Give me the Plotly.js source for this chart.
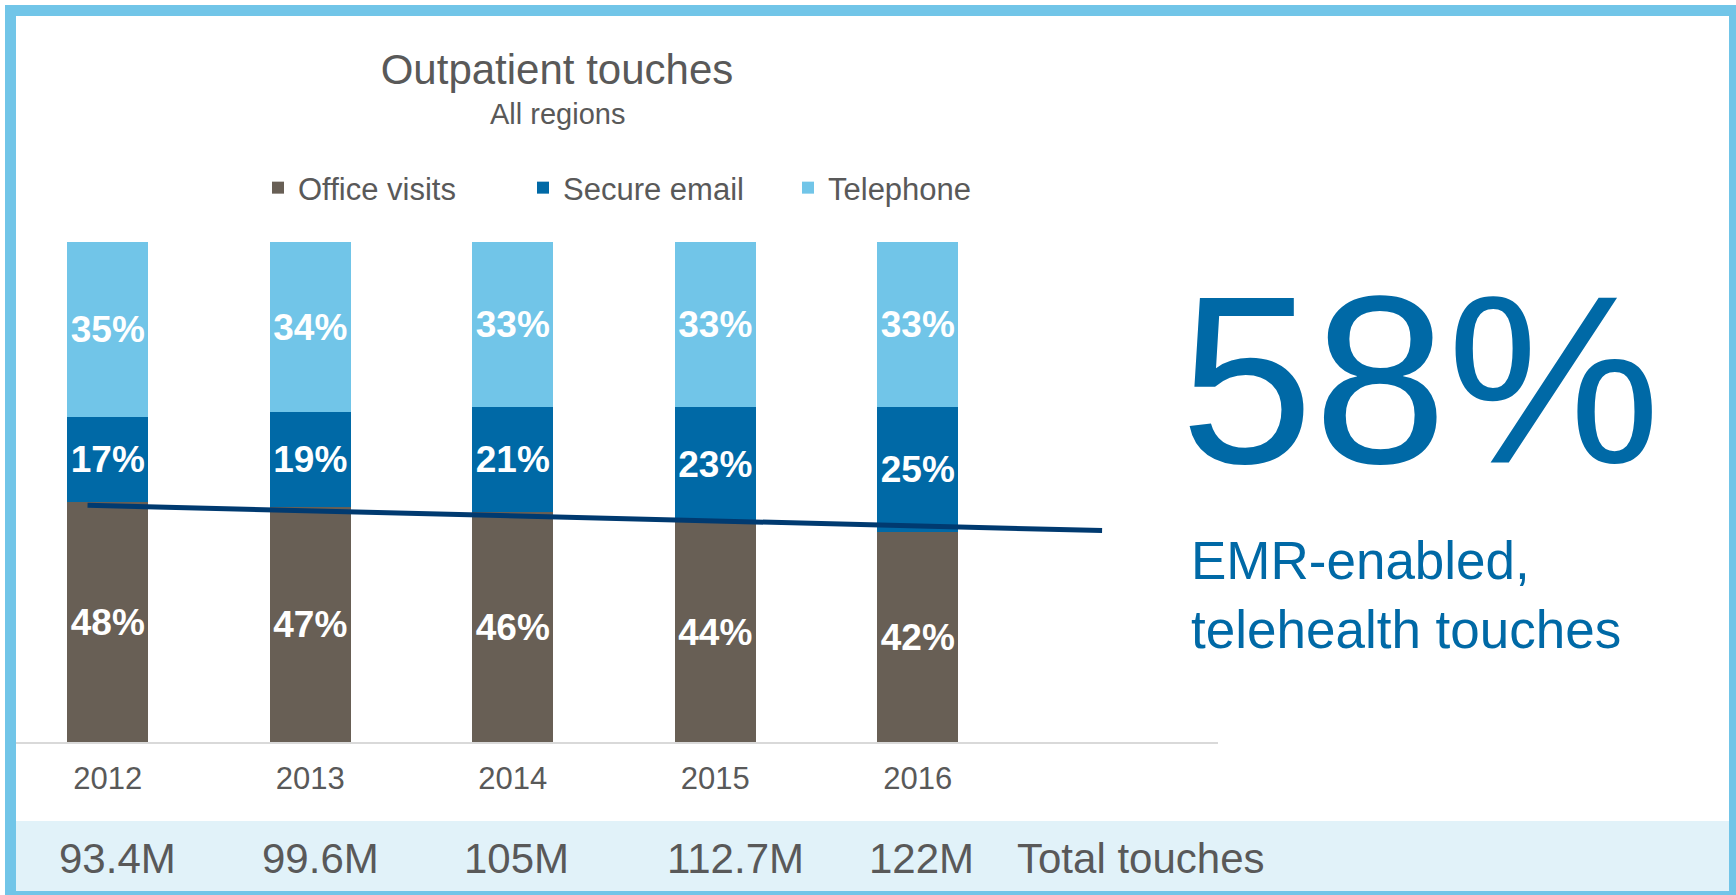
<!DOCTYPE html>
<html>
<head>
<meta charset="utf-8">
<script src="https://cdn.plot.ly/plotly-3.0.1.min.js"></script>
<style>
  html, body { margin: 0; padding: 0; background: #ffffff; }
  #chart { width: 1736px; height: 895px; }
</style>
</head>
<body>
<div id="chart"></div>
<script>
// ---- data ----
const years = [2012, 2013, 2014, 2015, 2016];
const yearLabels = ['2012', '2013', '2014', '2015', '2016'];
const officeVisits = [48, 47, 46, 44, 42];
const secureEmail = [17, 19, 21, 23, 25];
const telephone = [35, 34, 33, 33, 33];
const totalTouches = ['93.4M', '99.6M', '105M', '112.7M', '122M'];
const totalLabel = 'Total touches';
// hand-drawn trend line over office visits
const trendX = [2011.9, 2016.91];
const trendY = [47.34, 42.28];
const chartTitle = 'Outpatient touches';
const chartSubtitle = 'All regions';
const headline = '58%';
const headlineText = 'EMR-enabled,<br>telehealth touches';

// ---- style ----
const FONT = '"Liberation Sans", Arial, Helvetica, sans-serif';
const GREY = '#595959';
const C_OFFICE = '#685F55';
const C_EMAIL = '#0069A6';
const C_PHONE = '#71C5E8';
const C_TREND = '#003A70';
const BAR_W = 0.4;

function barTrace(name, vals, color) {
  return {
    type: 'bar',
    name: name,
    x: years,
    y: vals,
    width: BAR_W,
    marker: { color: color, line: { width: 0 } },
    text: vals.map(v => v + '%'),
    textposition: 'inside',
    insidetextanchor: 'middle',
    textangle: 0,
    constraintext: 'none',
    textfont: { family: FONT, size: 37, color: '#ffffff', weight: 'bold' },
    hoverinfo: 'skip'
  };
}

const traces = [
  barTrace('Office visits', officeVisits, C_OFFICE),
  barTrace('Secure email', secureEmail, C_EMAIL),
  barTrace('Telephone', telephone, C_PHONE),
  {
    type: 'scatter',
    mode: 'lines',
    x: trendX,
    y: trendY,
    line: { color: C_TREND, width: 5 },
    showlegend: false,
    hoverinfo: 'skip'
  }
];

// pixel helpers for the paper frame (plot area: x 15..1218, y 242..742)
const PL = 15, PW = 1203, PB = 742, PH = 500;
const px = v => (v - PL) / PW;
const py = v => (PB - v) / PH;

const annotations = [];
years.forEach((yr, i) => {
  annotations.push({
    xref: 'x', yref: 'paper',
    x: yr - 0.2, y: py(858),
    xanchor: 'left', yanchor: 'middle', xshift: -10,
    text: totalTouches[i], showarrow: false,
    font: { family: FONT, size: 42, color: GREY }
  });
});
annotations.push({
  xref: 'paper', yref: 'paper', x: px(1015), y: py(858),
  xanchor: 'left', yanchor: 'middle',
  text: totalLabel, showarrow: false,
  font: { family: FONT, size: 42, color: GREY }
});
annotations.push({
  xref: 'paper', yref: 'paper', x: px(557), y: py(114),
  xanchor: 'center', yanchor: 'middle',
  text: chartSubtitle, showarrow: false,
  font: { family: FONT, size: 29, color: GREY }
});
annotations.push({
  xref: 'paper', yref: 'paper', x: px(1420), y: py(380),
  xanchor: 'center', yanchor: 'middle',
  text: headline, showarrow: false,
  font: { family: FONT, size: 240, color: C_EMAIL }
});
annotations.push({
  xref: 'paper', yref: 'paper', x: px(1189), y: py(595),
  xanchor: 'left', yanchor: 'middle', align: 'left',
  text: headlineText, showarrow: false,
  font: { family: FONT, size: 53, color: C_EMAIL }
});

const layout = {
  width: 1736,
  height: 895,
  margin: { l: PL, r: 1736 - PL - PW, t: PB - PH, b: 895 - PB, pad: 0 },
  paper_bgcolor: '#ffffff',
  plot_bgcolor: '#ffffff',
  barmode: 'stack',
  hovermode: false,
  showlegend: true,
  font: { family: FONT, color: GREY },
  title: {
    text: chartTitle,
    font: { family: FONT, size: 42, color: GREY },
    xref: 'container', x: 557 / 1736, xanchor: 'center',
    yref: 'container', y: 1 - 55 / 895, yanchor: 'top'
  },
  legend: {
    orientation: 'h',
    traceorder: 'normal',
    x: px(258), xanchor: 'left',
    y: py(188), yanchor: 'middle',
    font: { family: FONT, size: 31, color: GREY },
    bgcolor: 'rgba(0,0,0,0)',
    entrywidth: 220,
    entrywidthmode: 'pixels'
  },
  xaxis: {
    type: 'linear',
    range: [2012 - (107.8 - PL) / 202.5, 2012 + (PL + PW - 107.8) / 202.5],
    tickvals: years,
    ticktext: yearLabels,
    showgrid: false,
    zeroline: false,
    showline: true,
    linecolor: '#D9D9D9',
    linewidth: 2,
    ticks: '',
    ticklabelstandoff: 8,
    tickfont: { family: FONT, size: 31, color: GREY },
    fixedrange: true
  },
  yaxis: {
    range: [0, 100],
    visible: false,
    showgrid: false,
    zeroline: false,
    fixedrange: true
  },
  shapes: [
    {
      type: 'rect', xref: 'paper', yref: 'paper', layer: 'below',
      x0: px(16), x1: px(1729), y0: py(891), y1: py(821),
      fillcolor: '#E1F2F9', line: { width: 0 }
    },
    {
      type: 'rect', xref: 'paper', yref: 'paper', layer: 'above',
      x0: px(10.5), x1: px(1734.5), y0: py(896.5), y1: py(10.5),
      fillcolor: 'rgba(0,0,0,0)', line: { color: '#71C5E8', width: 11 }
    }
  ],
  annotations: annotations
};

Plotly.newPlot('chart', traces, layout, { displayModeBar: false, staticPlot: true });
</script>
</body>
</html>
